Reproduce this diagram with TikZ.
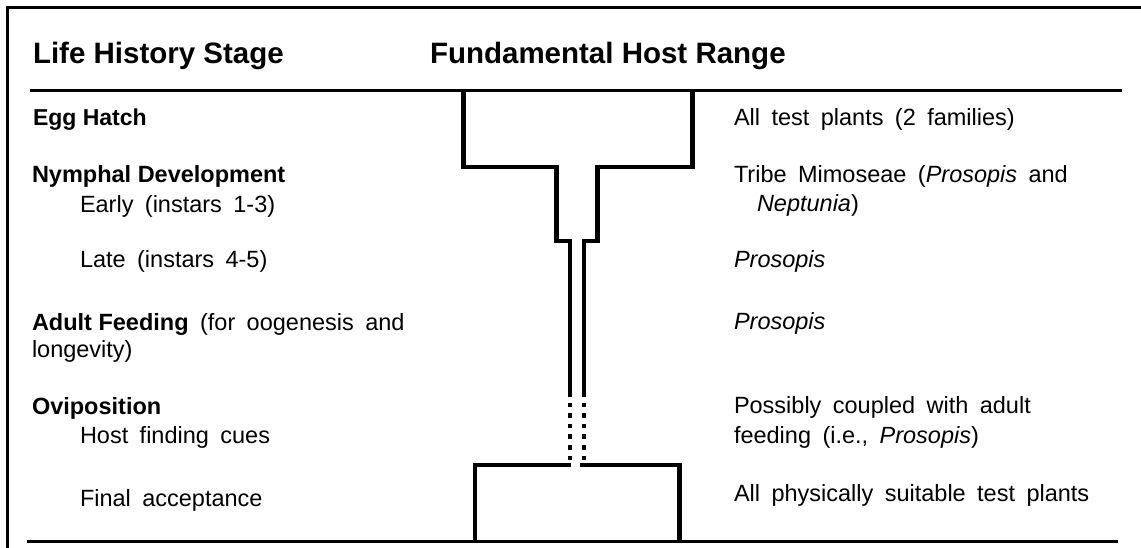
\documentclass[tikz,border=0pt]{standalone}
\usepackage{fontspec}
\setmainfont{Liberation Sans}[WordSpace=1.75, BoldFeatures={WordSpace=1.0}]
\newcommand\bodyfont{\fontsize{23.5pt}{28pt}\selectfont}
\newcommand\hdrfont{\fontsize{29.5pt}{34pt}\selectfont\bfseries}
\tikzset{
  txt/.style={anchor=base west, inner sep=0pt, outer sep=0pt, font=\bodyfont},
  hdr/.style={anchor=base west, inner sep=0pt, outer sep=0pt, font=\hdrfont},
  frame/.style={line width=2.8pt, line join=miter},
  rule/.style={line width=2.4pt},
  funnel/.style={line width=4.5pt, line join=miter, line cap=butt},
  dots/.style={line width=4.5pt, dash pattern=on 4.6pt off 6pt}
}
\begin{document}
\begin{tikzpicture}[x=1pt, y=-1pt]
\useasboundingbox (0,0) rectangle (1141,548);
% frame (top and left)
\draw[frame] (7.5,548) -- (7.5,7.5) -- (1141,7.5);
% rules
\draw[rule] (30,90.5) -- (1122,90.5);
\draw[rule] (27,541.5) -- (1118,541.5);
% headers
\node[hdr] (h1) at (33,64) {Life History Stage};
\node[hdr] (h2) at (430,64) {Fundamental Host Range};
% left column
\node[txt] (l1) at (33,126) {\fontsize{23pt}{28pt}\selectfont\textbf{Egg Hatch}};
\node[txt] (l2) at (32,183) {\textbf{Nymphal Development}};
\node[txt] (l3) at (80,213) {Early (instars 1-3)};
\node[txt] (l4) at (80,268) {Late (instars 4-5)};
\node[txt] (l5) at (32,330) {\textbf{Adult Feeding} (for oogenesis and};
\node[txt] (l6) at (32,357) {longevity)};
\node[txt] (l7) at (32,414) {\textbf{Oviposition}};
\node[txt] (l8) at (80,443) {Host finding cues};
\node[txt] (l9) at (80,506) {Final acceptance};
% right column
\node[txt] (r1) at (734,126) {All test plants (2 families)};
\node[txt] (r2) at (734,183) {Tribe Mimoseae (\textit{Prosopis} and};
\node[txt] (r3) at (757,212) {\textit{Neptunia})};
\node[txt] (r4) at (734,268) {\textit{Prosopis}};
\node[txt] (r5) at (734,329) {\textit{Prosopis}};
\node[txt] (r6) at (734,413) {Possibly coupled with adult};
\node[txt] (r7) at (734,443) {feeding (i.e., \textit{Prosopis})};
\node[txt] (r8) at (734,501) {All physically suitable test plants};
% funnel
\draw[funnel] (463.5,91) -- (463.5,167) -- (556.5,167) -- (556.5,241) -- (570,241) -- (570,397);
\draw[funnel] (692.5,91) -- (692.5,167) -- (597.5,167) -- (597.5,241) -- (584,241) -- (584,397);
\draw[dots] (570,402.5) -- (570,462);
\draw[dots] (584,402.5) -- (584,462);
\draw[funnel] (571,465) -- (474.8,465) -- (474.8,541);
\draw[funnel] (580,465) -- (679.5,465) -- (679.5,541);
\end{tikzpicture}
\end{document}
